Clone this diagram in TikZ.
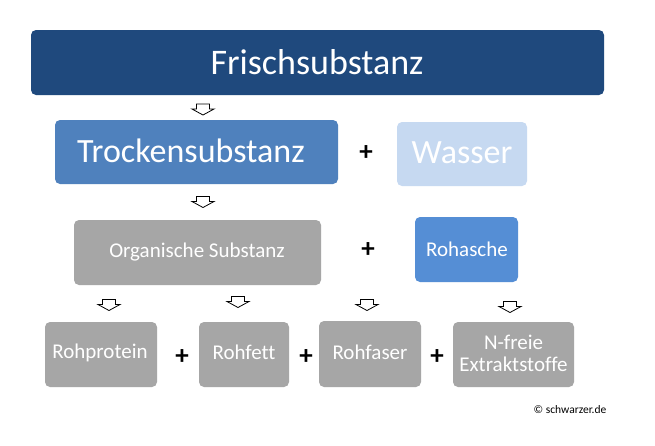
\documentclass[tikz,border=0pt]{standalone}
\usepackage{fontspec}
\setmainfont[RawFeature=-liga]{Carlito}
\definecolor{frischblue}{HTML}{1F497D}
\definecolor{trockenblue}{HTML}{4F81BD}
\definecolor{wasserblue}{HTML}{C6D9F1}
\definecolor{ascheblue}{HTML}{558ED5}
\definecolor{boxgray}{HTML}{A6A6A6}
\begin{document}
\begin{tikzpicture}[x=1pt,y=-1pt,
  box/.style={rounded corners=5pt, inner sep=0pt, text=white, align=center},
  plussign/.style={font=\fontsize{27}{27}\selectfont\bfseries, text=black, inner sep=0pt},
  downarrow/.pic={\draw[black, line width=0.8pt, fill=white, line join=miter]
     (-6.5,-5.5) -- (6.5,-5.5) -- (6.5,-0.5) -- (11,-0.5) -- (0,5.5) -- (-11,-0.5) -- (-6.5,-0.5) -- cycle;}
]
\useasboundingbox (0,0) rectangle (655,445);
\fill[white] (0,0) rectangle (655,445);

% boxes
\fill[frischblue, rounded corners=5pt] (31,30) rectangle (604,95);
\node[box, font=\fontsize{36}{36}\selectfont] (frisch) at (317,62) {Frischsubstanz};

\fill[trockenblue, rounded corners=5pt] (55,120) rectangle (338,184);
\node[box, font=\fontsize{34}{34}\selectfont] (trocken) at (191,151) {Trockensubstanz};

\node[plussign] (p1) at (366,153) {+};

\fill[wasserblue, rounded corners=5pt] (397,122) rectangle (527,186);
\node[box, font=\fontsize{34}{34}\selectfont] (wasser) at (462,153) {Wasser};

\fill[boxgray, rounded corners=5pt] (74,220) rectangle (321,285);
\node[box, font=\fontsize{21}{21}\selectfont] (organ) at (197,252) {Organische Substanz};

\node[plussign] (p2) at (368,250) {+};

\fill[ascheblue, rounded corners=5pt] (415,217) rectangle (518,282);
\node[box, font=\fontsize{21}{21}\selectfont] (asche) at (467,249) {Rohasche};

\fill[boxgray, rounded corners=5pt] (45,322) rectangle (157,387);
\node[box, font=\fontsize{21}{21}\selectfont] (protein) at (100,353) {Rohprotein};

\node[plussign] (p3) at (182,357) {+};

\fill[boxgray, rounded corners=5pt] (199,322) rectangle (289,387);
\node[box, font=\fontsize{21}{21}\selectfont] (fett) at (244,352) {Rohfett};

\node[plussign] (p4) at (306,357) {+};

\fill[boxgray, rounded corners=5pt] (319,321) rectangle (421,387);
\node[box, font=\fontsize{21}{21}\selectfont] (faser) at (370,352) {Rohfaser};

\node[plussign] (p5) at (437,357) {+};

\fill[boxgray, rounded corners=5pt] (453,322) rectangle (574,387);
\node[box, font=\fontsize{21}{22}\selectfont] (nfrei) at (513.5,353) {N-freie\\Extraktstoffe};

% arrows
\pic at (203,109.5) {downarrow};
\pic at (203,202) {downarrow};
\pic at (109,305) {downarrow};
\pic at (238,302) {downarrow};
\pic at (367,305) {downarrow};
\pic at (510,307) {downarrow};

\node[inner sep=0pt, font=\fontsize{11.5}{11.5}\selectfont, text=black] (copy) at (570,410) {© schwarzer.de};
\end{tikzpicture}
\end{document}
